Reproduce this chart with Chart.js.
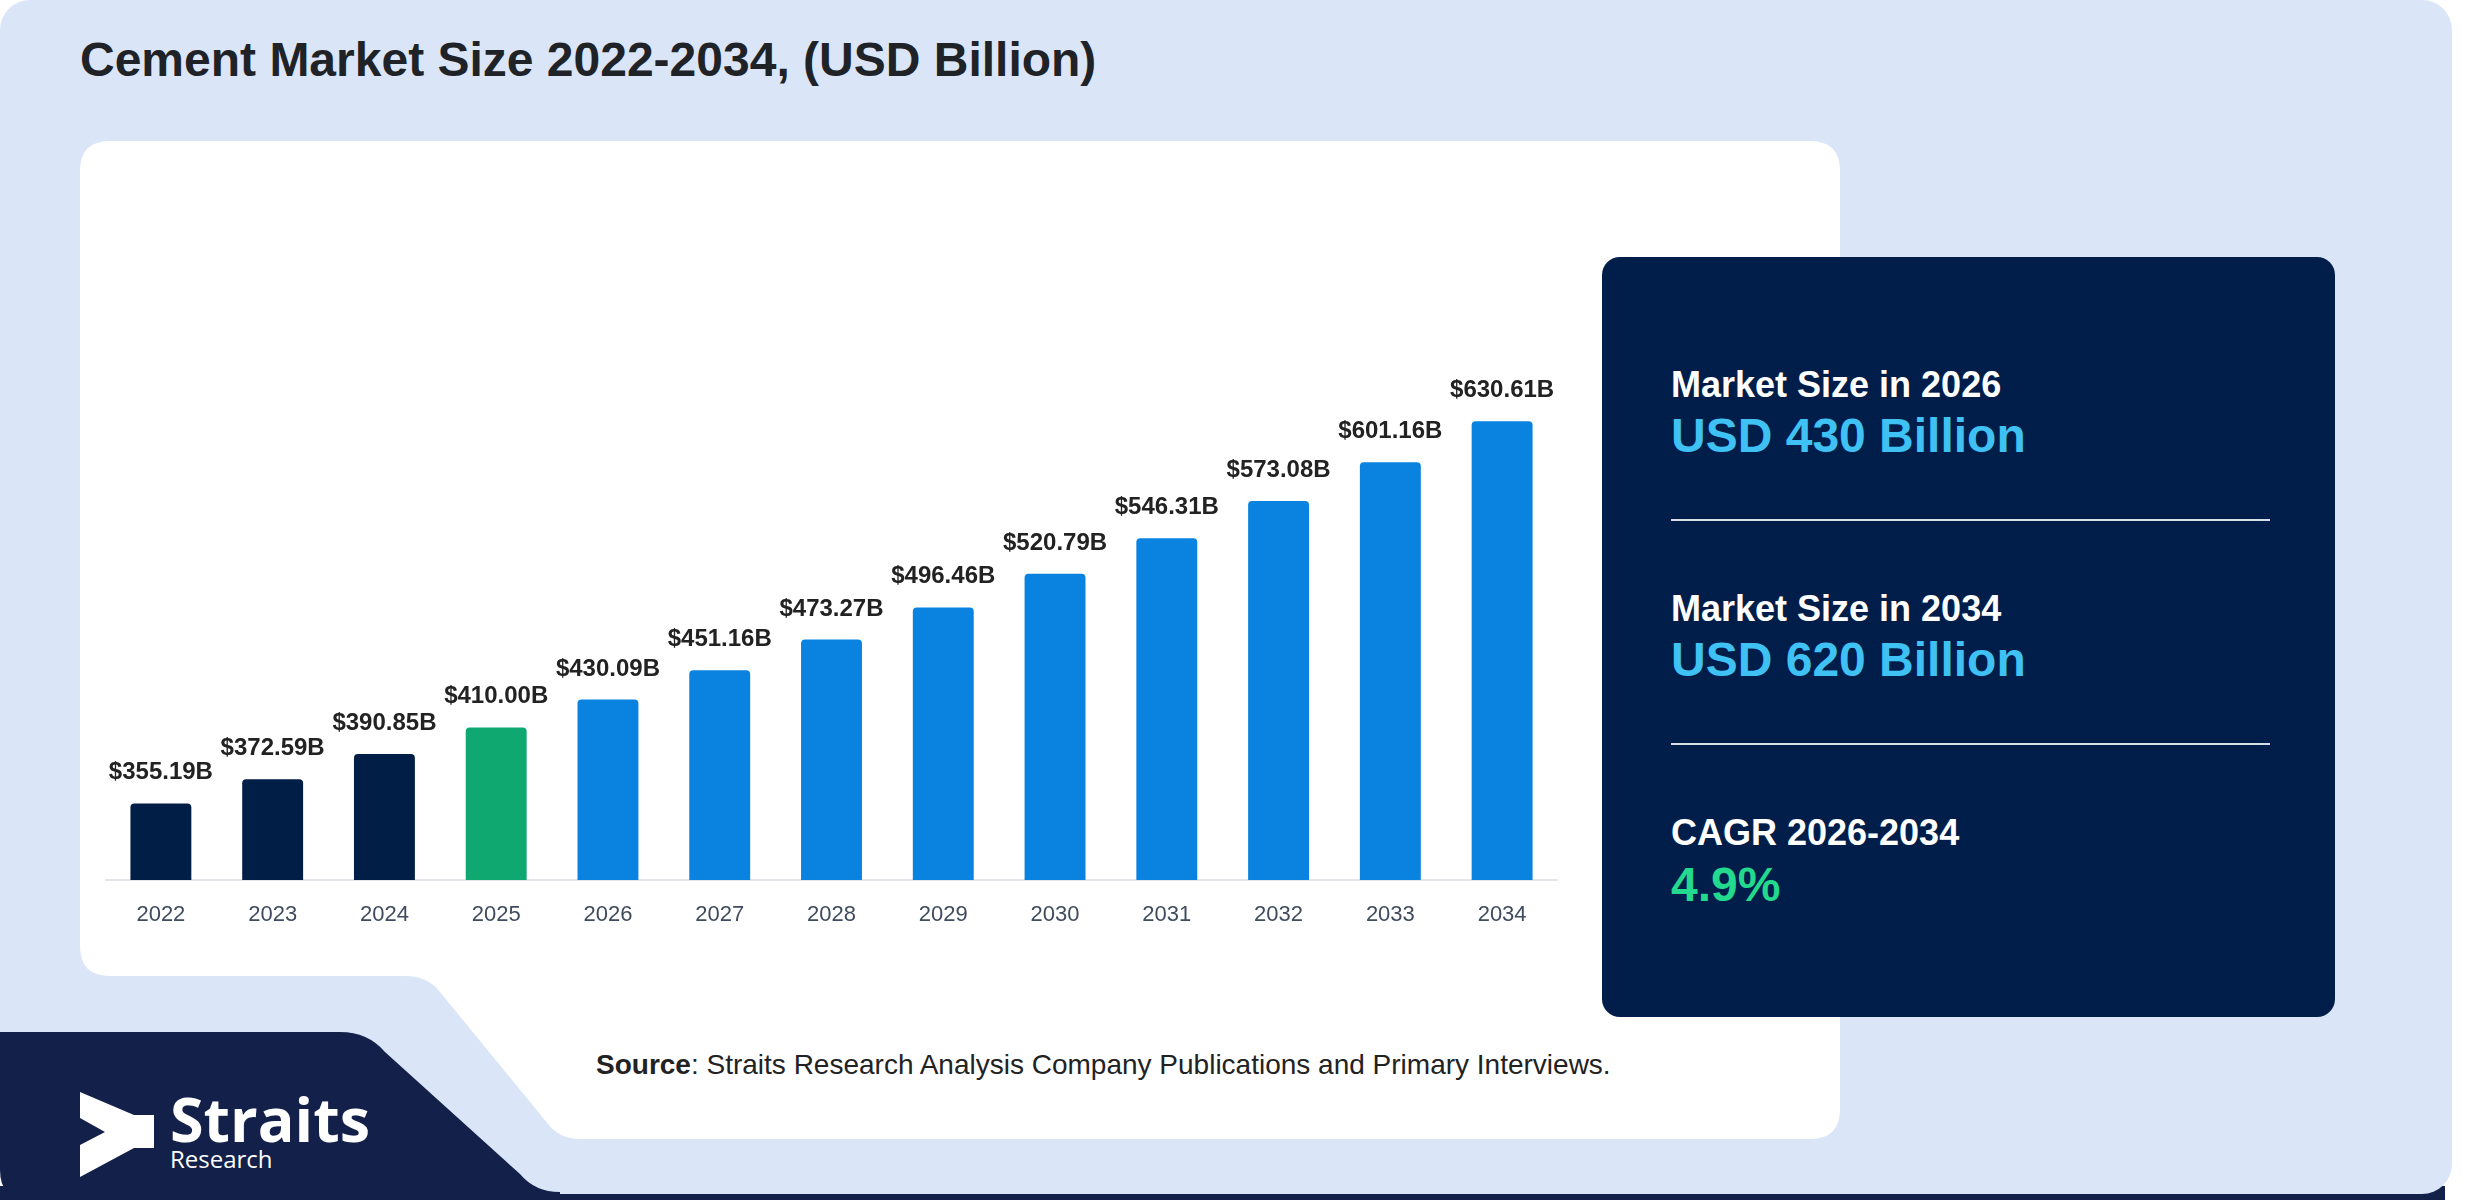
<!DOCTYPE html>
<html>
<head>
<meta charset="utf-8">
<script src="https://cdn.jsdelivr.net/npm/chart.js@4.4.1/dist/chart.umd.min.js"></script>
<style>
  html, body { margin: 0; padding: 0; background: #fff; }
  body { width: 2480px; height: 1200px; position: relative; overflow: hidden; font-family: "Liberation Sans", Arial, sans-serif; }
  .abs { position: absolute; white-space: nowrap; line-height: 1; }
  #title { left: 80px; top: 36px; font-size: 48px; font-weight: bold; color: #1f2328; }
  #panel { position: absolute; left: 1602px; top: 257px; width: 733px; height: 760px; background: #011e4a; border-radius: 18px; }
  .lbl { color: #fff; font-weight: bold; font-size: 36px; left: 1671px; }
  .big { color: #3fc1f3; font-weight: bold; font-size: 48px; left: 1671px; }
  .rule { position: absolute; left: 1671px; width: 599px; height: 2px; background: #d8dde6; }
  #source { left: 596px; top: 1051px; font-size: 28px; color: #222; }
  #chartBox { position: absolute; left: 105px; top: 325px; width: 1453px; height: 625px; }
  .logo { color: #fff; left: 170px; font-family: "Open Sans", sans-serif; }
</style>
</head>
<body>
<svg width="2480" height="1200" style="position:absolute;left:0;top:0">
  <rect x="0" y="1186" width="2445" height="14" fill="#13204a"/>
  <rect x="0" y="0" width="2452" height="1194" rx="30" ry="30" fill="#dae6f8"/>
  <path d="M0,1032 L340,1032 Q368,1032 385,1052 L520,1174 Q535,1192 560,1192 L560,1200 L30,1200 Q0,1200 0,1170 Z" fill="#13204a"/>
  <path d="M110,141 L1810,141 Q1840,141 1840,171 L1840,1109 Q1840,1139 1810,1139 L580,1139 Q560,1139 548,1124 L440,992 Q428,976 405,976 L110,976 Q80,976 80,946 L80,171 Q80,141 110,141 Z" fill="#ffffff"/>
  <polygon points="80,1092 134,1115 154,1115 154,1148 134,1148 80,1177 80,1145 105,1132 80,1118" fill="#ffffff"/>
</svg>

<div id="title" class="abs">Cement Market Size 2022-2034, (USD Billion)</div>

<div id="chartBox"><canvas id="myChart"></canvas></div>

<div id="panel"></div>
<div class="abs lbl" style="top:367px">Market Size in 2026</div>
<div class="abs big" style="top:412px">USD 430 Billion</div>
<div class="rule" style="top:519px"></div>
<div class="abs lbl" style="top:591px">Market Size in 2034</div>
<div class="abs big" style="top:636px">USD 620 Billion</div>
<div class="rule" style="top:743px"></div>
<div class="abs lbl" style="top:815px">CAGR 2026-2034</div>
<div class="abs big" style="top:861px;color:#22d98e">4.9%</div>

<div id="source" class="abs"><b>Source</b>: Straits Research Analysis Company Publications and Primary Interviews.</div>

<div class="abs logo" style="top:1088px;font-size:61px;font-weight:bold">Straits</div>
<div class="abs logo" style="top:1147px;font-size:24px">Research</div>

<script>
const years = ['2022', '2023', '2024', '2025', '2026', '2027', '2028', '2029', '2030', '2031', '2032', '2033', '2034']
const marketSize = [355.19, 372.59, 390.85, 410.00, 430.09, 451.16, 473.27, 496.46, 520.79, 546.31, 573.08, 601.16, 630.61]
// historical, base year, forecast
const periods = ['hist', 'hist', 'hist', 'base', 'fc', 'fc', 'fc', 'fc', 'fc', 'fc', 'fc', 'fc', 'fc']

const periodColor = { hist: '#011e47', base: '#0fa870', fc: '#0a83e0' }

// value labels above each bar
const barLabels = {
    id: 'barLabels',
    afterDatasetsDraw(chart) {
        const ctx = chart.ctx
        const meta = chart.getDatasetMeta(0)
        ctx.save()
        ctx.font = 'bold 24px "Liberation Sans", Arial, sans-serif'
        ctx.fillStyle = '#222222'
        ctx.textAlign = 'center'
        ctx.textBaseline = 'alphabetic'
        meta.data.forEach((bar, i) => {
            ctx.fillText('$' + marketSize[i].toFixed(2) + 'B', bar.x, bar.y - 24)
        })
        ctx.restore()
    }
}

var ctx = document.getElementById('myChart')
var myChart = new Chart(ctx, {
    type: 'bar',
    data: {
        labels: years,
        datasets: [{
            label: 'Market Size',
            data: marketSize,
            backgroundColor: periods.map(p => periodColor[p]),
            borderRadius: 4,
            barPercentage: 0.545,
            categoryPercentage: 1
        }]
    },
    options: {
        responsive: true,
        maintainAspectRatio: false,
        animation: false,
        devicePixelRatio: 1,
        layout: { padding: 0 },
        plugins: {
            legend: { display: false },
            tooltip: { enabled: false }
        },
        scales: {
            x: {
                grid: { display: false, drawTicks: false },
                border: { display: true, color: '#e3e6eb', width: 2 },
                ticks: {
                    color: '#3f4b5e',
                    padding: 22,
                    font: { family: '"Liberation Sans", Arial, sans-serif', size: 22 }
                },
                afterFit: (scale) => { scale.height = 70 }
            },
            y: {
                display: false,
                min: 300,
                max: 700
            }
        }
    },
    plugins: [barLabels]
})
</script>
</body>
</html>
